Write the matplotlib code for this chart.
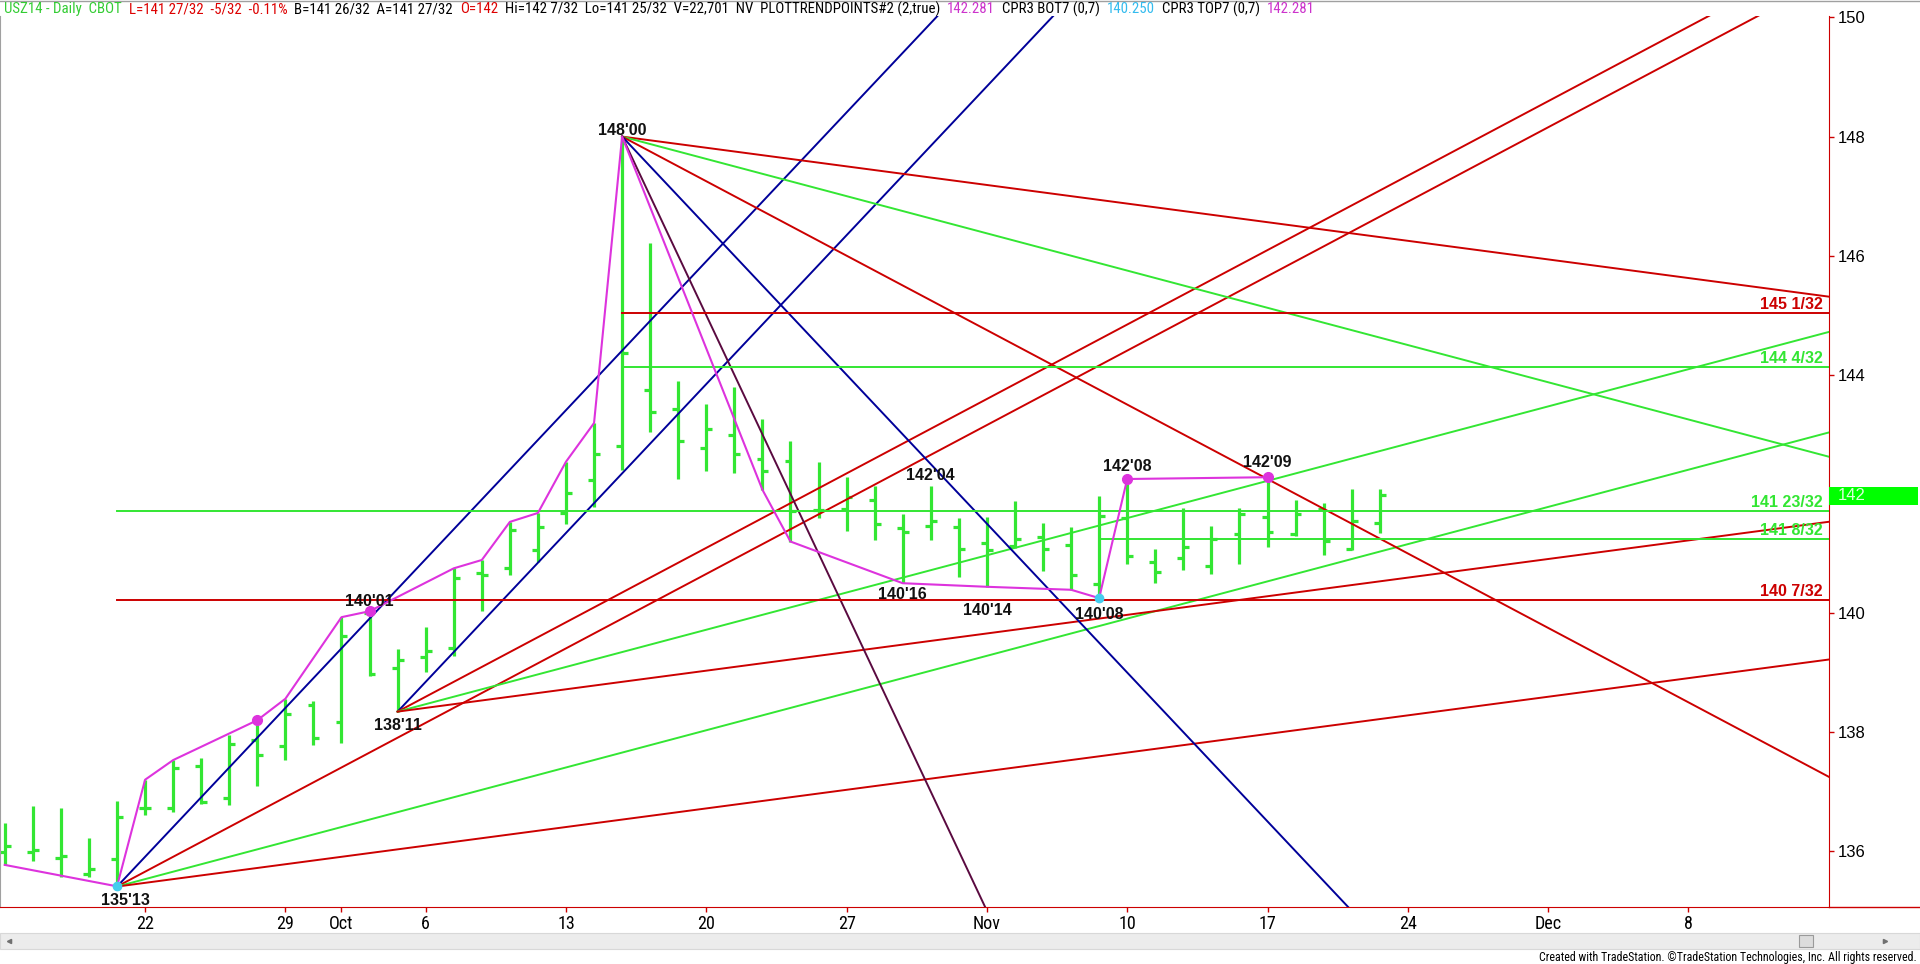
import matplotlib
matplotlib.use("Agg")
import matplotlib.pyplot as plt
import numpy as np
from matplotlib.lines import Line2D
from matplotlib.patches import Rectangle

plt.rcParams['font.family'] = ['Liberation Sans', 'DejaVu Sans']
NARROW = ['Roboto Condensed', 'Liberation Sans', 'DejaVu Sans']

# daily bars, x = trading day index (0 = Mon Sep 22 2014)
bar_idx = np.arange(-5, 45)
opens = [135.99, 135.99, 135.89, 135.62, 135.87, 136.73, 136.73, 137.43, 136.89, 137.86,
         137.77, 138.45, 138.17, 140.00, 139.08, 139.26, 139.41, 140.67, 140.75, 141.05,
         141.68, 142.23, 142.80, 143.75, 143.43, 142.77, 142.99, 142.58, 142.55, 141.73,
         141.75, 141.90, 141.43, 141.46, 141.45, 141.17, 141.12, 141.28, 141.14, 140.49,
         141.60, 140.85, 140.92, 140.79, 141.32, 141.61, 141.32, 141.74, 141.07, 141.51]
highs = [136.47, 136.76, 136.72, 136.22, 136.84, 137.20, 137.53, 137.56, 137.95, 138.20,
         138.56, 138.52, 139.93, 140.03, 139.40, 139.76, 140.75, 140.89, 141.53, 141.68,
         142.54, 143.19, 148.00, 146.22, 143.90, 143.51, 143.80, 143.25, 142.88, 142.54,
         142.28, 142.13, 141.66, 142.13, 141.59, 141.62, 141.88, 141.51, 141.44, 141.96,
         142.25, 141.07, 141.76, 141.46, 141.76, 142.28, 141.90, 141.84, 142.09, 142.09]
lows = [135.77, 135.84, 135.57, 135.57, 135.41, 136.61, 136.66, 136.79, 136.78, 137.09,
        137.53, 137.78, 137.82, 138.94, 138.34, 139.01, 139.28, 140.03, 140.63, 140.85,
        141.50, 141.78, 142.40, 143.04, 142.25, 142.39, 142.35, 142.07, 141.20, 141.60,
        141.37, 141.23, 140.50, 141.23, 140.61, 140.44, 141.09, 140.71, 140.39, 140.25,
        140.83, 140.50, 140.72, 140.66, 140.82, 141.11, 141.29, 140.97, 141.06, 141.35]
closes = [136.09, 136.02, 135.92, 135.70, 136.57, 136.73, 137.39, 136.83, 137.80, 137.62,
          138.30, 137.90, 139.61, 138.98, 139.21, 139.36, 140.59, 140.64, 141.40, 141.45,
          142.02, 142.67, 144.36, 143.38, 142.88, 143.09, 142.67, 142.39, 141.72, 141.73,
          141.95, 141.50, 141.36, 141.55, 141.07, 141.06, 141.25, 141.07, 140.64, 141.63,
          140.96, 140.69, 141.10, 141.24, 141.67, 141.36, 141.67, 141.21, 141.55, 141.98]

# swing line (PLOTTRENDPOINTS)
swing_idx = [-5, -1, 0, 1, 4, 5, 7, 8, 11, 12, 13, 14, 15, 16, 17, 22, 23, 27, 30, 33, 34, 35, 40]
swing_px = [135.77, 135.41, 137.20, 137.53, 138.20, 138.56, 139.93, 140.03, 140.75, 140.89,
            141.53, 141.68, 142.54, 143.19, 148.00, 142.07, 141.20, 140.50, 140.44, 140.39,
            140.25, 142.25, 142.28]
dot_high_idx = [4, 8, 35, 40]
dot_low_idx = [-1, 34]

# labelled pivots
label_idx = [17, -1, 9, 8, 28, 27, 30, 34, 35, 40]
label_txt = ["148'00", "135'13", "138'11", "140'01", "142'04", "140'16", "140'14", "140'08", "142'08", "142'09"]
label_above = [True, False, False, True, True, False, False, False, True, True]

# gann fans from 135'13, 138'11 and 148'00 (points per bar)
fan_idx = [-1, -1, -1, -1, 9, 9, 9, 9, 17, 17, 17, 17, 17]
fan_px = [135.406] * 4 + [138.344] * 4 + [148.0] * 5
fan_slope = [0.5, 0.25, 0.125, 0.0625, 0.5, 0.25, 0.125, 0.0625, -0.0625, -0.125, -0.25, -0.5, -1.0]

# horizontal levels
level_px = [145.031, 144.125, 141.719, 141.25, 140.219]
level_txt = ["145 1/32", "144 4/32", "141 23/32", "141 8/32", "140 7/32"]
level_from = [17, 17, -1, 34, -1]

# axis
ytick_vals = [136, 138, 140, 142, 144, 146, 148, 150]
xtick_idx = [0, 5, 7, 10, 15, 20, 25, 30, 35, 40, 45, 50, 55]
xtick_txt = ["22", "29", "Oct", "6", "13", "20", "27", "Nov", "10", "17", "24", "Dec", "8"]
last_px = "142"

header = [("USZ14 - Daily  CBOT", "#33cc33"), ("L=141 27/32  -5/32  -0.11%", "#dd0000"),
          ("B=141 26/32  A=141 27/32", "black"), ("O=142", "#dd0000"),
          ("Hi=142 7/32  Lo=141 25/32  V=22,701  NV  PLOTTRENDPOINTS#2 (2,true)", "black"),
          ("142.281", "#cc33cc"), ("CPR3 BOT7 (0,7)", "black"), ("140.250", "#33bbee"),
          ("CPR3 TOP7 (0,7)", "black"), ("142.281", "#cc33cc")]
footer = "Created with TradeStation. \u00a9TradeStation Technologies, Inc. All rights reserved."

RED = "#cc0000"
GREEN = "#33e633"
BLUE = "#000099"
MAG = "#dd33dd"
PURP = "#5a0a40"
fan_col = [BLUE, RED, GREEN, RED, BLUE, RED, GREEN, RED, RED, GREEN, RED, BLUE, PURP]
level_col = [RED, GREEN, GREEN, GREEN, RED]
label_dx = [0, 8, 0, 0, 0, 0, 0, 0, 0, 0]
label_dy = [2, -7, -6, 5, 6, -4, -16, -9, 8, 10]

W, H = 1920, 964
fig = plt.figure(figsize=(W / 100, H / 100), dpi=100)
ax = fig.add_axes([0, 57 / H, 1829 / W, 891 / H])
ax.set_xlim(-5.17, 60.01)
ax.set_ylim(135.063, 150.025)

for i0, p0, s, c in zip(fan_idx, fan_px, fan_slope, fan_col):
    xs = np.array([i0, 62])
    ax.plot(xs, p0 + s * (xs - i0), color=c, lw=1.4, zorder=3)

for p, t, x0, c in zip(level_px, level_txt, level_from, level_col):
    ax.plot([x0, 62], [p, p], color=c, lw=1.4, zorder=3)
    ax.annotate(t, xy=(1, p), xycoords=ax.get_yaxis_transform(), xytext=(-6, 4),
                textcoords='offset pixels', ha='right', va='baseline', color=c,
                fontsize=11.5, fontweight='bold', zorder=6)

ax.vlines(bar_idx, lows, highs, color=GREEN, lw=2.3, zorder=2)
ax.hlines(opens, bar_idx - 0.21, bar_idx, color=GREEN, lw=2.3, zorder=2)
ax.hlines(closes, bar_idx, bar_idx + 0.21, color=GREEN, lw=2.3, zorder=2)

ax.plot(swing_idx, swing_px, color=MAG, lw=1.5, zorder=4)
hi = dict(zip(bar_idx, highs))
lo = dict(zip(bar_idx, lows))
ax.plot(dot_high_idx, [hi[i] for i in dot_high_idx], 'o', color=MAG, ms=7, zorder=5)
ax.plot(dot_low_idx, [lo[i] for i in dot_low_idx], 'o', color="#44ccee", ms=6, zorder=5)

for i, t, up, dx, dy in zip(label_idx, label_txt, label_above, label_dx, label_dy):
    y = hi[i] if up else lo[i]
    ax.annotate(t, xy=(i, y), xytext=(dx, dy), textcoords='offset pixels', ha='center',
                va='baseline' if up else 'top', fontsize=11.5, fontweight='bold',
                color='#111111', zorder=6)

ax.spines['top'].set_visible(False)
ax.spines['left'].set_color('#a0a0a0')
ax.spines['right'].set_color(RED)
ax.spines['bottom'].set_color(RED)
ax.yaxis.tick_right()
ax.set_yticks(ytick_vals)
ax.set_yticklabels([str(v) for v in ytick_vals])
ax.tick_params(axis='y', length=3.6, width=1, color=RED, pad=2.5, labelsize=12)
ax.set_xticks(xtick_idx)
ax.set_xticklabels(xtick_txt)
ax.tick_params(axis='x', length=3.6, width=1, color=RED, pad=2.5, labelsize=13,
               labelfontfamily=NARROW)

fig.add_artist(Line2D([1829 / W, 1], [57 / H, 57 / H], color=RED, lw=1))
fig.add_artist(Line2D([0, 1], [1 - 0.5 / H, 1 - 0.5 / H], color='#a0a0a0', lw=1))

fig.add_artist(Rectangle((1829 / W, (H - 505) / H), 89 / W, 18 / H, transform=fig.transFigure,
                         facecolor='#00ff00', edgecolor='none'))
fig.text(1838 / W, (H - 496) / H, last_px, color='#d8ffd8', fontsize=12, va='center')

# scrollbar
fig.add_artist(Rectangle((0, (H - 949) / H), 1, 16 / H, transform=fig.transFigure,
                         facecolor='#ececec', edgecolor='#d8d8d8', lw=0.8))
fig.add_artist(Rectangle((1799 / W, (H - 947) / H), 14 / W, 12 / H, transform=fig.transFigure,
                         facecolor='#dcdcdc', edgecolor='#9a9a9a', lw=0.8))
fig.add_artist(Line2D([9 / W], [(H - 941) / H], marker='<', ms=3, color='#707070', lw=0))
fig.add_artist(Line2D([1885 / W], [(H - 941) / H], marker='>', ms=3, color='#707070', lw=0))

renderer = fig.canvas.get_renderer()

ft = fig.text(1917 / W, (H - 957) / H, footer, ha='right', va='center', fontsize=10.5, family=NARROW)
fw = ft.get_window_extent(renderer).width
ft.set_fontsize(10.5 * 378 / fw)


def place_header(size):
    x = 4
    arts = []
    for txt, col in header:
        t = fig.text(x / W, 1 - 9 / H, txt, color=col, fontsize=size, va='center', family=NARROW)
        arts.append(t)
        x = t.get_window_extent(renderer).x1 + 7
    return arts


# fit header so "(2,true)" ends near x=936 as in the source
arts = place_header(12)
end5 = arts[4].get_window_extent(renderer).x1
for a in arts:
    a.remove()
place_header(12 * (936 - 4 - 4 * 7) / (end5 - 4 - 4 * 7))

fig.savefig("out.png", dpi=100)
